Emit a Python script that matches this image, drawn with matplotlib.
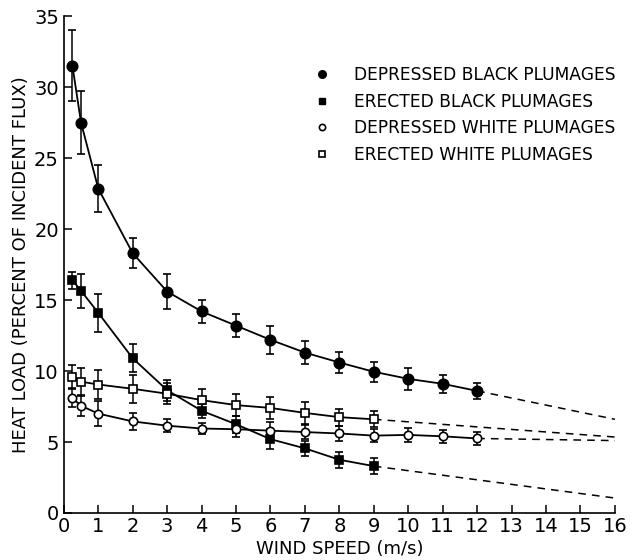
import matplotlib
matplotlib.use("Agg")
import matplotlib.pyplot as plt
from matplotlib.lines import Line2D

plt.rcParams['font.family'] = ['DejaVu Sans']

# wind speeds (m/s)
x_long = [0.25, 0.5, 1, 2, 3, 4, 5, 6, 7, 8, 9, 10, 11, 12]
x_short = [0.25, 0.5, 1, 2, 3, 4, 5, 6, 7, 8, 9]

# heat load (% of incident flux) and error half-widths
dep_black = [31.5, 27.5, 22.85, 18.3, 15.6, 14.2, 13.2, 12.2, 11.3, 10.6, 9.95, 9.45, 9.1, 8.6]
dep_black_err = [2.5, 2.2, 1.65, 1.05, 1.25, 0.8, 0.8, 1.0, 0.8, 0.75, 0.72, 0.77, 0.62, 0.58]

ere_black = [16.4, 15.65, 14.1, 10.9, 8.65, 7.2, 6.25, 5.2, 4.55, 3.75, 3.3]
ere_black_err = [0.6, 1.2, 1.35, 1.0, 0.75, 0.5, 0.6, 0.7, 0.53, 0.55, 0.58]

dep_white = [8.1, 7.55, 7.0, 6.45, 6.15, 5.95, 5.9, 5.8, 5.7, 5.6, 5.45, 5.5, 5.4, 5.25]
dep_white_err = [0.6, 0.75, 0.9, 0.6, 0.45, 0.4, 0.58, 0.58, 0.52, 0.5, 0.47, 0.47, 0.47, 0.44]

ere_white = [9.6, 9.25, 9.05, 8.75, 8.4, 7.95, 7.6, 7.4, 7.05, 6.75, 6.6]
ere_white_err = [0.8, 0.98, 1.0, 0.98, 0.75, 0.75, 0.75, 0.75, 0.75, 0.6, 0.55]

# extrapolated (dashed) parts
dep_black_ext_x, dep_black_ext_y = [12, 16], [8.6, 6.6]
ere_black_ext_x, ere_black_ext_y = [9, 16], [3.3, 1.05]
dep_white_ext_x, dep_white_ext_y = [12, 16], [5.25, 5.1]
ere_white_ext_x, ere_white_ext_y = [9, 16], [6.6, 5.35]

labels = ["DEPRESSED BLACK PLUMAGES", "ERECTED BLACK PLUMAGES",
          "DEPRESSED WHITE PLUMAGES", "ERECTED WHITE PLUMAGES"]

fig = plt.figure(figsize=(6.32, 5.6), dpi=100)
ax = fig.add_axes([0.101, 0.084, 0.872, 0.887])

series = [
    (x_long, dep_black, dep_black_err, 'o', 'black', 7.5),
    (x_short, ere_black, ere_black_err, 's', 'black', 6.3),
    (x_long, dep_white, dep_white_err, 'o', 'white', 6),
    (x_short, ere_white, ere_white_err, 's', 'white', 6),
]
for xs, ys, es, m, fc, ms in series:
    ax.errorbar(xs, ys, yerr=es, fmt='-', color='black', lw=1.3,
                marker=m, mfc=fc, mec='black', mew=1.2, ms=ms,
                capsize=3, elinewidth=1.1, capthick=1.1, zorder=3)

for ex, ey in [(dep_black_ext_x, dep_black_ext_y), (ere_black_ext_x, ere_black_ext_y),
               (dep_white_ext_x, dep_white_ext_y), (ere_white_ext_x, ere_white_ext_y)]:
    ax.plot(ex, ey, color='black', lw=1.1, ls=(0, (5, 4)), zorder=2)

ax.set_xlim(0, 16)
ax.set_ylim(0, 35)
ax.set_xticks(range(0, 17))
ax.set_yticks(range(0, 36, 5))
ax.spines['top'].set_visible(False)
ax.spines['right'].set_visible(False)
ax.spines['left'].set_linewidth(1.2)
ax.spines['bottom'].set_linewidth(1.2)
ax.tick_params(direction='in', length=6, width=1.1, labelsize=14)
ax.tick_params(axis='x', pad=3)
ax.set_xlabel("WIND SPEED (m/s)", fontsize=13, labelpad=3)
ax.set_ylabel("HEAT LOAD (PERCENT OF INCIDENT FLUX)", fontsize=13, labelpad=3)

handles = [
    Line2D([], [], ls='none', marker='o', mfc='black', mec='black', ms=5.5),
    Line2D([], [], ls='none', marker='s', mfc='black', mec='black', ms=5),
    Line2D([], [], ls='none', marker='o', mfc='white', mec='black', mew=1.2, ms=4.5),
    Line2D([], [], ls='none', marker='s', mfc='white', mec='black', mew=1.2, ms=4.5),
]
ax.legend(handles, labels, loc='upper left', bbox_to_anchor=(0.425, 0.93),
          frameon=False, fontsize=12.3, handlelength=1.0, handletextpad=1.4,
          labelspacing=0.5)

fig.savefig("out.png", dpi=100)
